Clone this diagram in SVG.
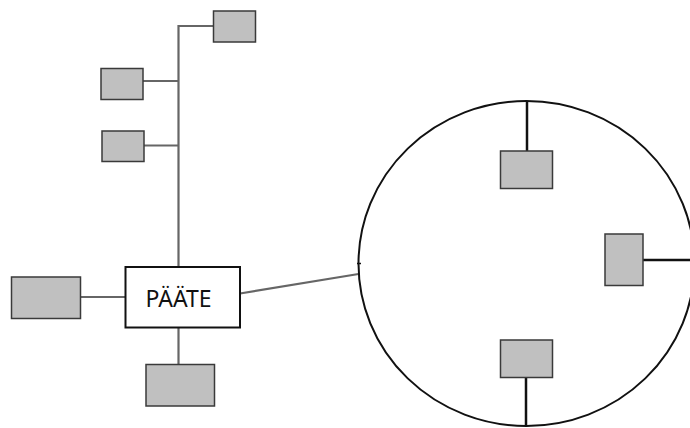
<svg xmlns="http://www.w3.org/2000/svg" width="690" height="428" viewBox="0 0 690 428">
<style>
.dev{fill:#c0c0c0;stroke:#3a3a3a;stroke-width:1.5}
.tree{stroke:#666;stroke-width:2.2;fill:none}
.ring{stroke:#111;stroke-width:2.5;fill:none}
.lbl{font-family:"Noto Sans","Open Sans","Liberation Sans",sans-serif;font-size:23px;fill:#111}
</style>
<rect width="690" height="428" fill="#fff"/>
<g id="connectors">
<polyline class="tree" points="213,26 178.5,26 178.5,267"/>
<line class="tree" x1="143" y1="81" x2="178.5" y2="81"/>
<line class="tree" x1="144" y1="145.5" x2="178.5" y2="145.5"/>
<line class="tree" x1="80" y1="297" x2="125" y2="297"/>
<line class="tree" x1="178.5" y1="327" x2="178.5" y2="364"/>
<line class="tree" x1="240" y1="293.5" x2="358.5" y2="274"/>
<line x1="357" y1="263.5" x2="361" y2="263.5" stroke="#111" stroke-width="1.5"/>
<line class="ring" x1="527" y1="101" x2="527" y2="151"/>
<line class="ring" x1="643" y1="260" x2="690" y2="260"/>
<line class="ring" x1="526" y1="378" x2="526" y2="426"/>
</g>
<g id="ring">
<ellipse cx="526.5" cy="263.5" rx="168" ry="162.5" fill="none" stroke="#111" stroke-width="2"/>
</g>
<g id="n1"><rect class="dev" x="213.5" y="11" width="42" height="31"/></g>
<g id="n2"><rect class="dev" x="101" y="68.5" width="42" height="31"/></g>
<g id="n3"><rect class="dev" x="102" y="131" width="42" height="30.5"/></g>
<g id="n4"><rect class="dev" x="11.5" y="277" width="69" height="41.5"/></g>
<g id="n5"><rect class="dev" x="146" y="364.5" width="68.5" height="41.5"/></g>
<g id="paate">
<rect x="125.5" y="267" width="114.5" height="60.5" fill="#fff" stroke="#111" stroke-width="2"/>
<text class="lbl" x="178.5" y="307" text-anchor="middle">PÄÄTE</text>
</g>
<g id="r1"><rect class="dev" x="500.5" y="151" width="52" height="37.5"/></g>
<g id="r2"><rect class="dev" x="605" y="234" width="38" height="51.5" stroke="#777"/></g>
<g id="r3"><rect class="dev" x="500.5" y="340" width="52" height="37.5"/></g>
</svg>
